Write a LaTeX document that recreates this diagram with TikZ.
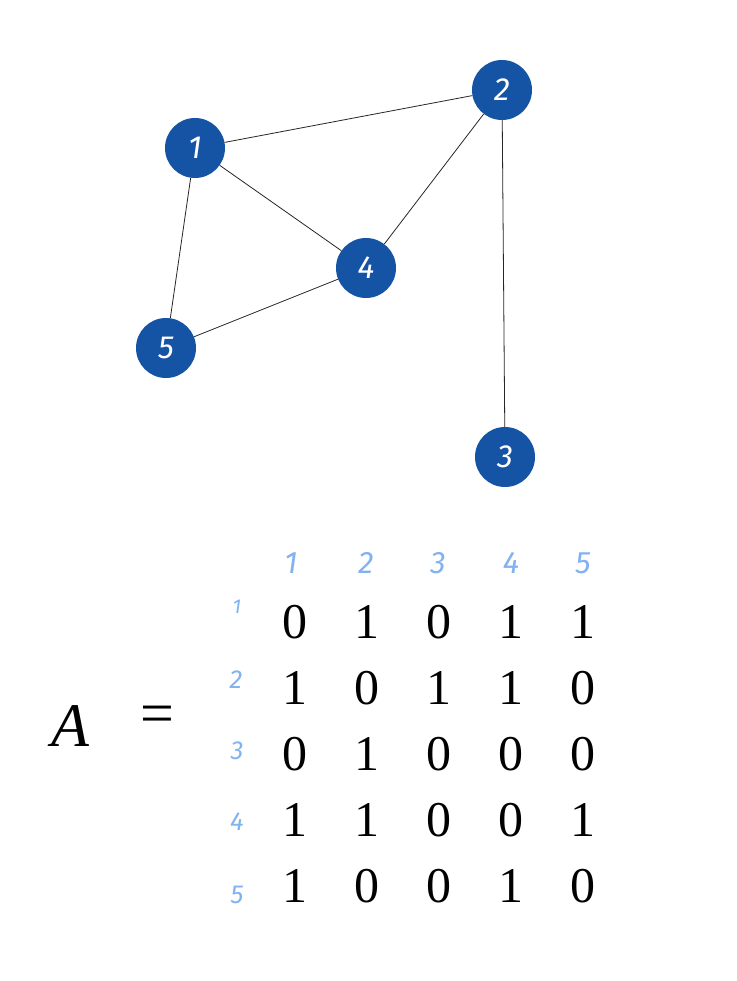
\documentclass[tikz,border=0pt]{standalone}
\usepackage{fontspec}
\setmainfont{Liberation Serif}
\newfontfamily\labfont{Fira Sans}
\definecolor{nodeblue}{HTML}{1553A5}
\definecolor{lightblue}{HTML}{82B2F0}
\begin{document}
\begin{tikzpicture}[x=1pt,y=-1pt,
  vertex/.style={circle,fill=nodeblue,minimum size=60pt,inner sep=0pt,text=white,font=\labfont\itshape\fontsize{32}{32}\selectfont},
  edge/.style={draw=black!85,line width=0.8pt},
  hdr/.style={text=lightblue,font=\labfont\itshape\fontsize{31}{31}\selectfont,inner sep=0pt},
  rowlab/.style={text=lightblue,font=\labfont\itshape\fontsize{26}{26}\selectfont,inner sep=0pt},
  entry/.style={font=\fontsize{50}{50}\selectfont,inner sep=0pt}]
\useasboundingbox[fill=white] (0,0) rectangle (736,981);
\node[vertex] (n1) at (195,148) {1};
\node[vertex] (n2) at (502,90) {2};
\node[vertex] (n3) at (505,457) {3};
\node[vertex] (n4) at (366,268) {4};
\node[vertex] (n5) at (166,348) {5};
\draw[edge] (n1) -- (n2);
\draw[edge] (n1) -- (n4);
\draw[edge] (n1) -- (n5);
\draw[edge] (n2) -- (n4);
\draw[edge] (n2) -- (n3);
\draw[edge] (n4) -- (n5);
% matrix
\node[font=\itshape\fontsize{62}{62}\selectfont,inner sep=0pt] (A) at (70,726) {A};
\node[font=\fontsize{60}{60}\selectfont,inner sep=0pt] (eq) at (157,720) {=};
\foreach \j/\x in {1/291,2/366,3/438,4/511,5/583}
  \node[hdr] (h\j) at (\x,563) {\j};
\node[rowlab,font=\labfont\itshape\fontsize{20}{20}\selectfont] (r1) at (237,607) {1};
\node[rowlab] (r2) at (236,680) {2};
\node[rowlab] (r3) at (237,751) {3};
\node[rowlab] (r4) at (237,822) {4};
\node[rowlab] (r5) at (237,895) {5};
\foreach \row/\y/\vals in {1/622/{0,1,0,1,1},2/688/{1,0,1,1,0},3/754/{0,1,0,0,0},4/820/{1,1,0,0,1},5/886/{1,0,0,1,0}}{
  \foreach \v [count=\c] in \vals {
    \pgfmathsetmacro{\xx}{223+72*\c}
    \node[entry] (m\row\c) at (\xx,\y) {\v};
  }
}
\end{tikzpicture}
\end{document}
